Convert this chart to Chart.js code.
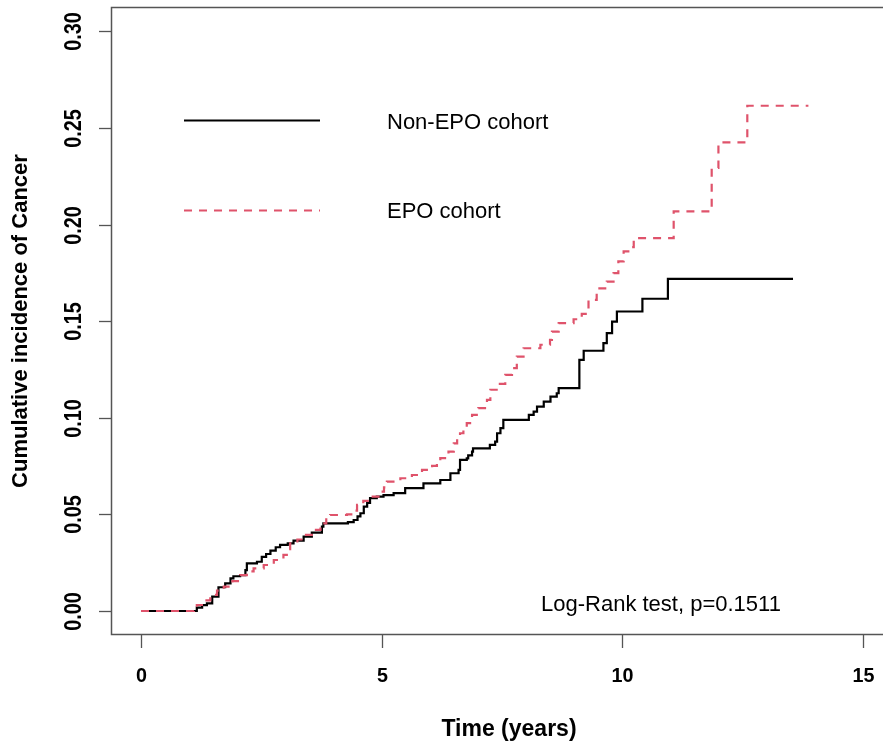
<!DOCTYPE html>
<html>
<head>
<meta charset="utf-8">
<script src="https://cdn.jsdelivr.net/npm/chart.js@4.4.1/dist/chart.umd.min.js"></script>
<style>
html,body{margin:0;padding:0;background:#fff;}
#wrap{width:883px;height:742px;position:relative;}
</style>
</head>
<body>
<div id="wrap"><canvas id="c" width="883" height="742"></canvas></div>
<script>
// ---- data ----
const nonEpoTime = [0,1.02,1.16,1.27,1.37,1.48,1.61,1.75,1.86,1.92,2.06,2.17,2.2,2.41,2.51,2.6,2.69,2.8,2.89,3.05,3.17,3.38,3.55,3.76,3.79,4.3,4.42,4.5,4.56,4.63,4.7,4.76,4.9,5.04,5.25,5.49,5.87,6.22,6.43,6.6,6.63,6.77,6.8,6.88,6.9,7.25,7.36,7.4,7.47,7.53,8.06,8.16,8.23,8.37,8.51,8.64,8.68,9.11,9.2,9.61,9.68,9.79,9.89,10.42,10.95,13.55];
const nonEpoCI   = [0,0,0.0017,0.003,0.004,0.0074,0.0123,0.0143,0.0169,0.018,0.0186,0.0212,0.0247,0.0255,0.028,0.0295,0.0312,0.033,0.0342,0.035,0.0364,0.0385,0.0406,0.0437,0.0454,0.046,0.0471,0.049,0.0506,0.054,0.056,0.0584,0.0592,0.060,0.061,0.0636,0.0661,0.0678,0.0713,0.073,0.0782,0.079,0.0805,0.0825,0.0842,0.086,0.0877,0.092,0.0946,0.0989,0.1015,0.1032,0.1058,0.1084,0.111,0.1127,0.1153,0.130,0.1347,0.1386,0.1438,0.1498,0.155,0.1616,0.1719,0.1719];

const epoTime = [0,1.02,1.1,1.16,1.3,1.44,1.58,1.72,1.9,2.06,2.2,2.34,2.55,2.76,2.96,3.03,3.10,3.25,3.38,3.55,3.73,3.85,3.93,4.28,4.4,4.49,4.62,4.76,4.97,5.05,5.11,5.39,5.63,5.84,6.05,6.15,6.22,6.39,6.5,6.57,6.63,6.7,6.77,6.88,7.01,7.19,7.26,7.43,7.57,7.71,7.81,7.95,8.30,8.5,8.54,8.68,8.99,9.16,9.3,9.47,9.68,9.82,9.92,10.03,10.2,10.24,11.07,11.86,12.0,12.6,13.87];
const epoCI   = [0,0,0.0015,0.0031,0.0055,0.0083,0.0105,0.0126,0.0155,0.0186,0.0205,0.0221,0.0238,0.0264,0.029,0.032,0.035,0.037,0.0394,0.042,0.0454,0.048,0.0497,0.050,0.052,0.0549,0.057,0.0592,0.0618,0.064,0.067,0.0687,0.0704,0.073,0.0751,0.077,0.0791,0.0825,0.0868,0.089,0.092,0.095,0.0972,0.1015,0.105,0.1093,0.1145,0.1176,0.1222,0.1257,0.1317,0.136,0.1378,0.1403,0.1446,0.149,0.151,0.1538,0.161,0.167,0.1705,0.1749,0.1809,0.1861,0.1883,0.193,0.2068,0.2293,0.2425,0.2615,0.2615];

const xTickValues = [0,5,10,15];
const xTickLabels = ["0","5","10","15"];
const yTickValues = [0,0.05,0.10,0.15,0.20,0.25,0.30];
const yTickLabels = ["0.00","0.05","0.10","0.15","0.20","0.25","0.30"];

const seriesNames = ["Non-EPO cohort","EPO cohort"];
const xTitle = "Time (years)";
const yTitle = "Cumulative incidence of Cancer";
const noteText = "Log-Rank test, p=0.1511";

const BLACK = "#000000";
const PINK = "#DF536B";

function pts(t, v){ return t.map((x,i)=>({x:x, y:v[i]})); }

const decor = {
  id:'decor',
  afterDraw(chart){
    const ctx = chart.ctx, a = chart.chartArea;
    const xs = chart.scales.x, ys = chart.scales.y;
    ctx.save();
    // box (right edge is outside the picture)
    ctx.strokeStyle = '#555'; ctx.lineWidth = 1.5;
    ctx.beginPath();
    ctx.moveTo(a.right+2, a.top+0.5); ctx.lineTo(a.left-0.5, a.top+0.5);
    ctx.lineTo(a.left-0.5, a.bottom+0.5); ctx.lineTo(a.right+2, a.bottom+0.5);
    ctx.stroke();
    // y ticks
    ctx.lineWidth = 1.3;
    ctx.fillStyle = '#000';
    yTickValues.forEach((v,i)=>{
      const y = Math.round(ys.getPixelForValue(v))+0.5;
      ctx.beginPath(); ctx.moveTo(a.left-13, y); ctx.lineTo(a.left, y); ctx.stroke();
      ctx.save(); ctx.translate(74, y); ctx.rotate(-Math.PI/2); ctx.scale(0.86,1);
      ctx.font = 'bold 23px "Liberation Sans", Arial, sans-serif';
      ctx.textAlign='center'; ctx.textBaseline='middle';
      ctx.fillText(yTickLabels[i], 0, 1);
      ctx.restore();
    });
    // x ticks
    xTickValues.forEach((v,i)=>{
      const x = Math.round(xs.getPixelForValue(v))+0.5;
      ctx.beginPath(); ctx.moveTo(x, a.bottom); ctx.lineTo(x, a.bottom+14); ctx.stroke();
      ctx.save(); ctx.translate(x, 676); ctx.scale(0.94,1);
      ctx.font = 'bold 21px "Liberation Sans", Arial, sans-serif';
      ctx.textAlign='center'; ctx.textBaseline='middle';
      ctx.fillText(xTickLabels[i], 0, 0);
      ctx.restore();
    });
    // axis titles
    ctx.font = 'bold 23px "Liberation Sans", Arial, sans-serif';
    ctx.textAlign='center'; ctx.textBaseline='middle';
    ctx.fillText(xTitle, 509, 730);
    ctx.save(); ctx.translate(21, 321); ctx.rotate(-Math.PI/2);
    ctx.font = 'bold 22px "Liberation Sans", Arial, sans-serif';
    ctx.fillText(yTitle, 0, 0);
    ctx.restore();
    // legend
    ctx.lineWidth = 2;
    ctx.strokeStyle = BLACK;
    ctx.beginPath(); ctx.moveTo(184, 120.5); ctx.lineTo(320, 120.5); ctx.stroke();
    ctx.strokeStyle = PINK; ctx.setLineDash([8,7]);
    ctx.beginPath(); ctx.moveTo(184, 210.5); ctx.lineTo(320, 210.5); ctx.stroke();
    ctx.setLineDash([]);
    ctx.font = '22px "Liberation Sans", Arial, sans-serif';
    ctx.textAlign='left'; ctx.textBaseline='middle';
    ctx.fillStyle = '#000';
    ctx.fillText(seriesNames[0], 387, 123);
    ctx.fillText(seriesNames[1], 387, 212);
    ctx.fillText(noteText, 541, 605);
    ctx.restore();
  }
};

new Chart(document.getElementById('c'), {
  type:'line',
  data:{
    datasets:[
      {label:seriesNames[0], data:pts(nonEpoTime,nonEpoCI), borderColor:BLACK, borderWidth:2.2,
       stepped:'before', pointRadius:0, fill:false, order:1},
      {label:seriesNames[1], data:pts(epoTime,epoCI), borderColor:PINK, borderWidth:2.2,
       borderDash:[8,7], stepped:'before', pointRadius:0, fill:false, order:0}
    ]
  },
  options:{
    responsive:false, maintainAspectRatio:false, animation:false,
    layout:{padding:{left:0,right:0,top:7,bottom:0}},
    plugins:{legend:{display:false}, tooltip:{enabled:false}},
    scales:{
      x:{type:'linear', min:-0.6025, max:15.42,
         grid:{display:false}, border:{display:false}, ticks:{display:false},
         afterFit(s){ s.height = 108; }},
      y:{type:'linear', min:-0.0119, max:0.3126,
         grid:{display:false}, border:{display:false}, ticks:{display:false},
         afterFit(s){ s.width = 112; }}
    }
  },
  plugins:[decor]
});
</script>
</body>
</html>
